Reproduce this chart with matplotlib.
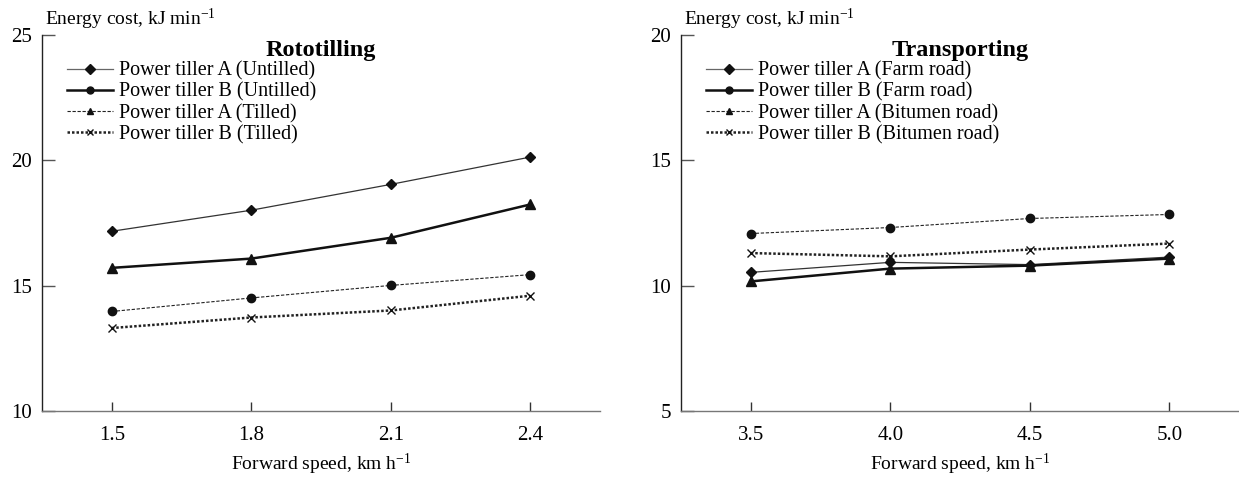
import matplotlib
matplotlib.use("Agg")
import matplotlib.pyplot as plt
from matplotlib.lines import Line2D

plt.rcParams["font.family"]=["Liberation Serif","DejaVu Serif"]
plt.rcParams["mathtext.fontset"]="custom"
plt.rcParams["mathtext.rm"]="Liberation Serif"
plt.rcParams["mathtext.it"]="Liberation Serif:italic"
plt.rcParams["mathtext.bf"]="Liberation Serif:bold"

# rototilling panel
till_speed=[1.5,1.8,2.1,2.4]
till_a_untilled=[17.17,18.01,19.04,20.13]
till_b_untilled=[15.71,16.08,16.91,18.24]
till_a_tilled=[13.97,14.51,15.01,15.44]
till_b_tilled=[13.31,13.73,14.01,14.60]
till_labels=["Power tiller A (Untilled)","Power tiller B (Untilled)","Power tiller A (Tilled)","Power tiller B (Tilled)"]

# transporting panel
trans_speed=[3.5,4.0,4.5,5.0]
trans_a_farm=[10.53,10.93,10.84,11.14]
trans_b_farm=[10.17,10.68,10.80,11.08]
trans_a_bitumen=[12.08,12.32,12.68,12.84]
trans_b_bitumen=[11.30,11.17,11.44,11.68]
trans_labels=["Power tiller A (Farm road)","Power tiller B (Farm road)","Power tiller A (Bitumen road)","Power tiller B (Bitumen road)"]

# line styles: thin solid, thick solid, thin dashed, thick dotted
styles=[
    dict(color="#333333",lw=0.9,ls="-"),
    dict(color="#111111",lw=1.8,ls="-"),
    dict(color="#222222",lw=0.8,ls=(0,(3,1.5))),
    dict(color="#222222",lw=1.8,ls=(0,(1,0.8))),
]
plot_markers=["D","^","o","x"]
legend_markers=["D","o","^","x"]

def draw_panel(ax,speed,series,labels,title,ylim,yticks,xlim):
    for vals,st,mk in zip(series,styles,plot_markers):
        ms=7 if mk=="^" else 6
        if mk=="D":
            ms=5.5
        ax.plot(speed,vals,marker=mk,ms=ms,mew=1.0,mfc="#111111",mec="#111111",**st)

    handles=[]
    for st,mk in zip(styles,legend_markers):
        st2=dict(st)
        if st2["ls"]=="-" and st2["lw"]<1:
            st2["color"]="#666666"
        handles.append(Line2D([],[],marker=mk,ms=5,mfc="#111111",mec="#111111",**st2))
    ax.legend(handles,labels,loc="upper left",bbox_to_anchor=(0.045,0.93),frameon=False,
              fontsize=14.5,handlelength=2.3,handletextpad=0.3,labelspacing=0.1,borderaxespad=0,borderpad=0)

    ax.set_xlim(*xlim)
    ax.set_ylim(*ylim)
    ax.set_xticks(speed)
    ax.set_xticklabels([f"{s:.1f}" for s in speed])
    ax.set_yticks(yticks)
    ax.spines["top"].set_visible(False)
    ax.spines["right"].set_visible(False)
    ax.spines["left"].set_color("#222222")
    ax.spines["bottom"].set_color("#777777")
    ax.spines["left"].set_linewidth(1.0)
    ax.spines["bottom"].set_linewidth(1.0)
    ax.tick_params(axis="y",direction="in",length=9,width=1.0,color="#555555",labelsize=15,pad=7)
    ax.tick_params(axis="x",direction="in",length=6.5,width=1.0,color="#333333",labelsize=15,pad=11)

    ax.set_xlabel("Forward speed, km h$^{-1}$",fontsize=14,labelpad=5)
    ax.annotate("Energy cost, kJ min$^{-1}$",xy=(0,1),xycoords="axes fraction",xytext=(2,2),
                textcoords="offset points",ha="left",va="bottom",fontsize=14)
    ax.text(0.5,0.96,title,transform=ax.transAxes,ha="center",va="center",fontsize=17.5,fontweight="bold")

fig=plt.figure(figsize=(12.39,4.79),dpi=100)
ax1=fig.add_axes([42/1239,68/479,558/1239,376/479])
ax2=fig.add_axes([681/1239,68/479,558/1239,376/479])

draw_panel(ax1,till_speed,[till_a_untilled,till_b_untilled,till_a_tilled,till_b_tilled],
           till_labels,"Rototilling",(10,25),[10,15,20,25],(1.35,2.55))
draw_panel(ax2,trans_speed,[trans_a_farm,trans_b_farm,trans_a_bitumen,trans_b_bitumen],
           trans_labels,"Transporting",(5,20),[5,10,15,20],(3.25,5.25))

fig.savefig("out.png",dpi=100)
